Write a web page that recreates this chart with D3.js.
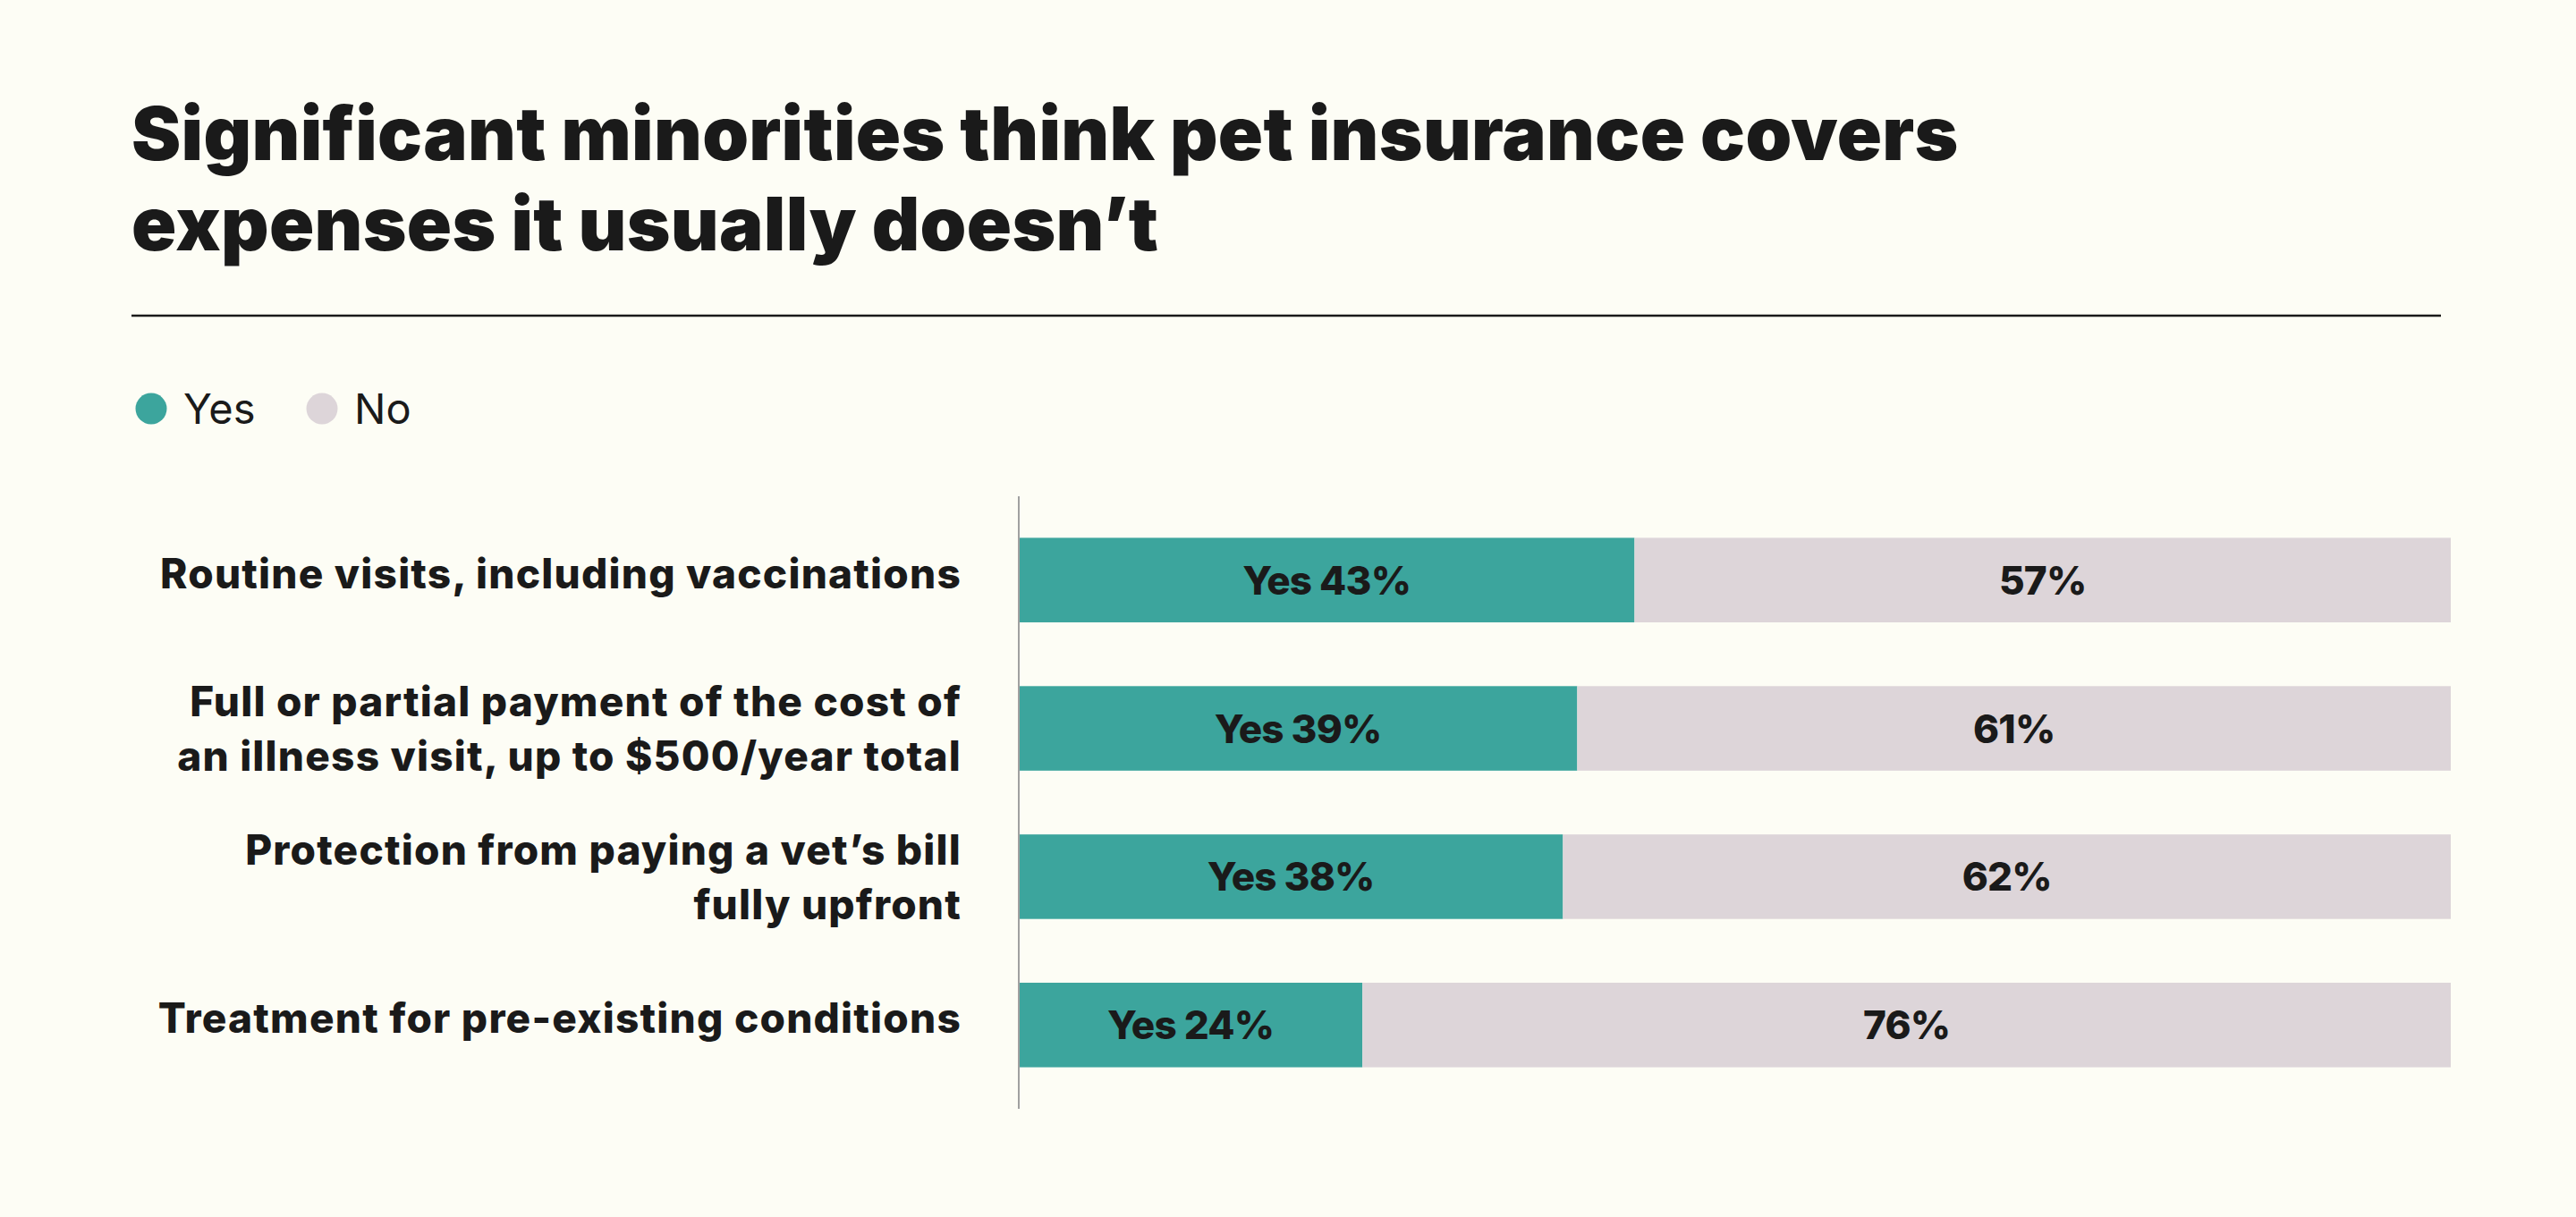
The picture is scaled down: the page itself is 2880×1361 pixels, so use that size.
<!DOCTYPE html>
<html>
<head>
<meta charset="utf-8">
<script src="https://cdn.jsdelivr.net/npm/d3@7"></script>
<style>
  html, body { margin: 0; padding: 0; background: #fdfdf5; }
  svg { display: block; }
  text { font-family: Inter, "Noto Sans", sans-serif; fill: #1a1a1a; }
</style>
</head>
<body>
<svg id="chart"></svg>
<script>
// survey data
const categories = [
    ["Routine visits, including vaccinations"],
    ["Full or partial payment of the cost of", "an illness visit, up to $500/year total"],
    ["Protection from paying a vet\u2019s bill", "fully upfront"],
    ["Treatment for pre-existing conditions"]
];
const yesValues = [43, 39, 38, 24];
const noValues = [57, 61, 62, 76];
const seriesNames = ["Yes", "No"];
const titleLines = ["Significant minorities think pet insurance covers", "expenses it usually doesn\u2019t"];

const width = 2880, height = 1361;
const colors = {Yes: "#3ca59d", No: "#ddd5d9"};

const svg = d3.select("#chart")
    .attr("width", width)
    .attr("height", height);

// Title
svg.append("g").selectAll("text")
    .data(titleLines)
    .enter()
    .append("text")
    .attr("x", 147)
    .attr("y", (d, i) => 179 + i * 101)
    .style("font-size", "83px")
    .style("font-weight", 900)
    .style("letter-spacing", "0.3px")
    .text(d => d);

svg.append("line")
    .attr("x1", 147).attr("x2", 2729)
    .attr("y1", 353).attr("y2", 353)
    .attr("stroke", "#1a1a1a")
    .attr("stroke-width", 2.5);

// Legend
const legendX = [169, 360];
const legend = svg.append("g").selectAll("g")
    .data(seriesNames)
    .enter()
    .append("g")
    .attr("transform", (d, i) => "translate(" + legendX[i] + ",457)");

legend.append("circle")
    .attr("r", 17.5)
    .attr("fill", d => colors[d]);

legend.append("text")
    .attr("x", 36)
    .attr("y", 17)
    .style("font-size", "47px")
    .style("font-weight", 400)
    .text(d => d);

// Scales
const x = d3.scaleLinear()
    .domain([0, 100])
    .range([1139, 2740]);

const y = d3.scaleBand()
    .domain(d3.range(categories.length))
    .range([555, 1240])
    .paddingInner(0.43)
    .paddingOuter(0.28);

const rows = categories.map((c, i) => ({
    label: c,
    segments: [
        {key: "Yes", x0: 0, x1: yesValues[i], text: "Yes " + yesValues[i] + "%"},
        {key: "No", x0: yesValues[i], x1: yesValues[i] + noValues[i], text: noValues[i] + "%"}
    ]
}));

const row = svg.append("g").selectAll("g")
    .data(rows)
    .enter()
    .append("g")
    .attr("transform", (d, i) => "translate(0," + y(i) + ")");

row.selectAll("rect")
    .data(d => d.segments)
    .enter()
    .append("rect")
    .attr("x", d => x(d.x0))
    .attr("width", d => x(d.x1) - x(d.x0))
    .attr("height", y.bandwidth())
    .attr("fill", d => colors[d.key]);

row.selectAll("text.value")
    .data(d => d.segments)
    .enter()
    .append("text")
    .attr("class", "value")
    .attr("x", d => (x(d.x0) + x(d.x1)) / 2)
    .attr("y", y.bandwidth() / 2 + 16)
    .attr("text-anchor", "middle")
    .style("font-size", "44px")
    .style("font-weight", 800)
    .style("letter-spacing", "-0.8px")
    .text(d => d.text);

// Category labels, right aligned against the axis
row.each(function (d) {
    const n = d.label.length;
    d3.select(this).selectAll("text.cat")
        .data(d.label)
        .enter()
        .append("text")
        .attr("class", "cat")
        .attr("x", 1075)
        .attr("y", (t, j) => y.bandwidth() / 2 + 9 + 8 * (n - 1) + (j - (n - 1) / 2) * 61.5)
        .attr("text-anchor", "end")
        .style("font-size", "46px")
        .style("font-weight", 800)
        .style("letter-spacing", "1.2px")
        .text(t => t);
});

// Axis line
svg.append("line")
    .attr("x1", 1139).attr("x2", 1139)
    .attr("y1", 555).attr("y2", 1240)
    .attr("stroke", "#a0a0a0")
    .attr("stroke-width", 2);
</script>
</body>
</html>
